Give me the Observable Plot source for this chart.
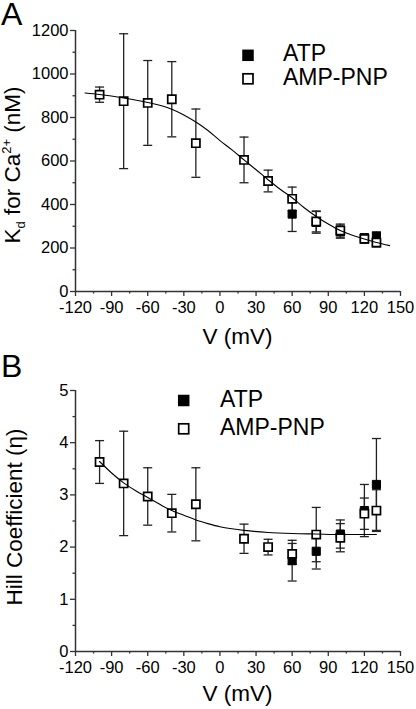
<!DOCTYPE html>
<html>
<head>
<meta charset="utf-8">
<script src="https://cdn.jsdelivr.net/npm/d3@7"></script>
<script src="https://cdn.jsdelivr.net/npm/@observablehq/plot@0.6"></script>
<style>
  body { margin: 0; background: #fff; }
  #chart svg { display: block; overflow: visible; }
</style>
</head>
<body>
<div id="chart"></div>
<script>
// ---------- data ----------
const voltages = [-100, -80, -60, -40, -20, 20, 40, 60, 80, 100, 120, 130];
const atpVoltages = [60, 80, 100, 120, 130];

// Panel A: Kd for Ca2+ (nM)
const kdAMP = [905, 875, 867, 884, 682, 605, 508, 426, 322, 280, 242, 225];
const kdAMPErr = [35, 310, 195, 173, 157, 105, 50, 54, 48, 30, 20, 20];
const kdATP = [356, 318, 275, 247, 254];
const kdATPErr = [80, 50, 30, 18, 20];
const kdFitV = [-112, -100, -80, -60, -40, -30, -20, -10, 0, 10, 20, 30, 40, 50, 60, 70, 80, 90, 100, 110, 120, 130, 141];
const kdFit = [913, 906, 890, 869, 838, 812, 779, 740, 694, 651, 605, 560, 514, 470, 431, 385, 345, 310, 280, 259, 241, 225, 211];

// Panel B: Hill coefficient
const hillAMP = [3.63, 3.22, 2.97, 2.65, 2.82, 2.16, 2.00, 1.87, 2.24, 2.18, 2.64, 2.70];
const hillAMPErr = [0.41, 1.0, 0.55, 0.36, 0.7, 0.28, 0.15, 0.2, 0.52, 0.27, 0.3, 0.4];
const hillATP = [1.74, 1.92, 2.25, 2.70, 3.20];
const hillATPErr = [0.39, 0.34, 0.27, 0.5, 0.88];
const hillFitV = [-100, -90, -80, -70, -60, -50, -40, -30, -20, -10, 0, 10, 20, 40, 60, 80, 100, 130];
const hillFit = [3.64, 3.42, 3.23, 3.08, 2.95, 2.82, 2.70, 2.61, 2.52, 2.45, 2.39, 2.35, 2.32, 2.28, 2.26, 2.25, 2.24, 2.24];

const xTicks = [-120, -90, -60, -30, 0, 30, 60, 90, 120, 150];
const xMinor = [-105, -75, -45, -15, 15, 45, 75, 105, 135];
const kdTicks = [0, 200, 400, 600, 800, 1000, 1200];
const kdMinor = [100, 300, 500, 700, 900, 1100];
const hillTicks = [0, 1, 2, 3, 4, 5];
const hillMinor = [0.5, 1.5, 2.5, 3.5, 4.5];

const legendLabels = ["ATP", "AMP-PNP"];

// ---------- helpers ----------
const FONT = "'Liberation Sans', Arial, Helvetica, sans-serif";
const zip = (xs, ys, es) => xs.map((v, i) => ({v, val: ys[i], err: es ? es[i] : 0}));
const capSymbol = {
  draw(ctx) { ctx.moveTo(-4.5, 0); ctx.lineTo(4.5, 0); }
};

function makePanel({height, marginTop, marginBottom, yDomain, yTicks, yMinor, amp, atp, fit}) {
  const errMarks = (rows) => [
    Plot.ruleX(rows, {x: "v", y1: d => d.val - d.err, y2: d => d.val + d.err, stroke: "#222", strokeWidth: 1.3}),
    Plot.dot(rows, {x: "v", y: d => d.val + d.err, symbol: capSymbol, r: 3, stroke: "#222", strokeWidth: 1.3, fill: "none"}),
    Plot.dot(rows, {x: "v", y: d => d.val - d.err, symbol: capSymbol, r: 3, stroke: "#222", strokeWidth: 1.3, fill: "none"})
  ];
  return Plot.plot({
    width: 416,
    height,
    marginTop,
    marginBottom,
    marginLeft: 75,
    marginRight: 16,
    style: {fontFamily: FONT, fontSize: "16px", color: "#000", background: "#fff", overflow: "visible"},
    x: {domain: [-120, 150]},
    y: {domain: yDomain},
    marks: [
      Plot.axisX(xTicks, {tickSize: 5, tickPadding: 5, tickFormat: d => String(d), fontSize: 16.5, stroke: "#333", strokeWidth: 1.3, label: null}),
      Plot.axisX(xMinor, {tickSize: 2.5, tickFormat: () => "", stroke: "#333", strokeWidth: 1.3, label: null}),
      Plot.axisY(yTicks, {tickSize: 5, tickPadding: 2, tickFormat: d => String(d), fontSize: 16.5, stroke: "#333", strokeWidth: 1.3, label: null}),
      Plot.axisY(yMinor, {tickSize: 2.5, tickFormat: () => "", stroke: "#333", strokeWidth: 1.3, label: null}),
      Plot.ruleY([yDomain[0]], {stroke: "#333", strokeWidth: 1.5}),
      Plot.ruleX([-120], {stroke: "#333", strokeWidth: 1.5}),
      ...errMarks(atp),
      ...errMarks(amp),
      Plot.dot(atp, {x: "v", y: "val", symbol: "square", r: 4.6, fill: "#000", stroke: "#000", strokeWidth: 1}),
      Plot.dot(amp, {x: "v", y: "val", symbol: "square", r: 4.6, fill: "#fff", stroke: "#000", strokeWidth: 1.7}),
      Plot.line(fit, {x: "v", y: "val", curve: "monotone-x", stroke: "#000", strokeWidth: 1.1})
    ]
  });
}

function addText(svg, {letter, letterY, yLabel, yLabelX, yLabelY, xLabelY, legendX, legendTextX, legendY1, legendY2}) {
  const s = d3.select(svg);
  const g = s.append("g").attr("font-family", FONT).attr("fill", "#000").attr("text-anchor", "start");
  g.append("text").attr("x", 1).attr("y", letterY).attr("font-size", 32).attr("text-anchor", "start").text(letter);
  const yl = g.append("text")
    .attr("transform", `translate(${yLabelX},${yLabelY}) rotate(-90)`)
    .attr("text-anchor", "middle").attr("font-size", 22.5);
  yLabel(yl);
  g.append("text").attr("x", 237.5).attr("y", xLabelY).attr("text-anchor", "middle")
    .attr("font-size", 22.5).text("V (mV)");
  // legend
  g.append("rect").attr("x", legendX - 5.75).attr("y", legendY1 - 5.75).attr("width", 11.5).attr("height", 11.5).attr("fill", "#000");
  g.append("rect").attr("x", legendX - 5).attr("y", legendY2 - 5).attr("width", 10).attr("height", 10)
    .attr("fill", "#fff").attr("stroke", "#000").attr("stroke-width", 1.7);
  g.append("text").attr("x", legendTextX).attr("y", legendY1 + 6).attr("font-size", 23).attr("text-anchor", "start").text(legendLabels[0]);
  g.append("text").attr("x", legendTextX).attr("y", legendY2 + 6).attr("font-size", 23).attr("text-anchor", "start").text(legendLabels[1]);
}

// ---------- panel A ----------
const svgA = makePanel({
  height: 355, marginTop: 30, marginBottom: 64,
  yDomain: [0, 1200], yTicks: kdTicks, yMinor: kdMinor,
  amp: zip(voltages, kdAMP, kdAMPErr),
  atp: zip(atpVoltages, kdATP, kdATPErr),
  fit: zip(kdFitV, kdFit)
});
addText(svgA, {
  letter: "A", letterY: 25,
  yLabel: t => {
    t.append("tspan").text("K");
    t.append("tspan").attr("font-size", 13).attr("dy", 5).text("d");
    t.append("tspan").attr("dy", -5).text(" for Ca");
    t.append("tspan").attr("font-size", 13).attr("dy", -9).text("2+");
    t.append("tspan").attr("dy", 9).text(" (nM)");
  },
  yLabelX: 20, yLabelY: 165, xLabelY: 344,
  legendX: 248, legendTextX: 283, legendY1: 55.3, legendY2: 78.8
});

// ---------- panel B ----------
const svgB = makePanel({
  height: 354, marginTop: 35, marginBottom: 58,
  yDomain: [0, 5], yTicks: hillTicks, yMinor: hillMinor,
  amp: zip(voltages, hillAMP, hillAMPErr),
  atp: zip(atpVoltages, hillATP, hillATPErr),
  fit: zip(hillFitV, hillFit)
});
addText(svgB, {
  letter: "B", letterY: 21.7,
  yLabel: t => t.text("Hill Coefficient (η)"),
  yLabelX: 21.5, yLabelY: 162, xLabelY: 346,
  legendX: 183.7, legendTextX: 220, legendY1: 45.5, legendY2: 73.8
});

const chart = document.getElementById("chart");
chart.appendChild(svgA);
chart.appendChild(svgB);
</script>
</body>
</html>
